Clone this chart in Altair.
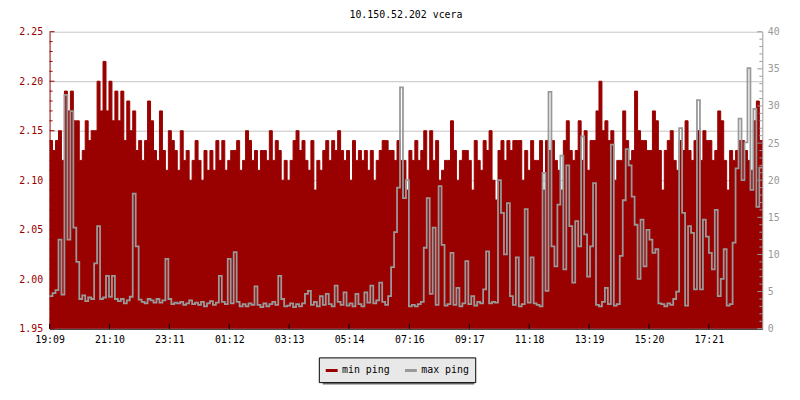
import altair as alt
import pandas as pd

FONT = "DejaVu Sans Mono"
RED = "#990000"
GRAY = "#999999"

STEP_MIN = 6  # minutes between samples, starting at 19:09

min_ping = [
    2.14, 2.13, 2.14, 2.15, 2.12, 2.19, 2.17, 2.19, 2.16, 2.16,
    2.12, 2.13, 2.16, 2.14, 2.15, 2.15, 2.20, 2.17, 2.22, 2.17,
    2.20, 2.16, 2.19, 2.16, 2.19, 2.14, 2.18, 2.15, 2.17, 2.13,
    2.14, 2.12, 2.14, 2.18, 2.16, 2.13, 2.12, 2.17, 2.13, 2.11,
    2.15, 2.14, 2.13, 2.11, 2.15, 2.12, 2.13, 2.10, 2.12, 2.14,
    2.12, 2.10, 2.13, 2.11, 2.13, 2.11, 2.14, 2.12, 2.14, 2.11,
    2.12, 2.13, 2.13, 2.14, 2.11, 2.12, 2.15, 2.14, 2.12, 2.13,
    2.11, 2.13, 2.13, 2.12, 2.15, 2.12, 2.14, 2.13, 2.10, 2.12,
    2.10, 2.12, 2.14, 2.15, 2.13, 2.14, 2.12, 2.11, 2.14, 2.09,
    2.12, 2.11, 2.13, 2.14, 2.12, 2.14, 2.13, 2.15, 2.13, 2.12,
    2.13, 2.10, 2.14, 2.12, 2.13, 2.12, 2.13, 2.11, 2.13, 2.10,
    2.12, 2.13, 2.14, 2.14, 2.13, 2.13, 2.12, 2.14, 2.12, 2.12,
    2.09, 2.13, 2.12, 2.14, 2.12, 2.13, 2.15, 2.11, 2.15, 2.12,
    2.14, 2.10, 2.11, 2.12, 2.12, 2.16, 2.13, 2.10, 2.12, 2.13,
    2.13, 2.12, 2.09, 2.14, 2.12, 2.11, 2.14, 2.13, 2.15, 2.10,
    2.08, 2.13, 2.14, 2.12, 2.14, 2.13, 2.14, 2.14, 2.14, 2.10,
    2.13, 2.11, 2.14, 2.12, 2.12, 2.14, 2.09, 2.14, 2.13, 2.14,
    2.12, 2.11, 2.09, 2.14, 2.16, 2.13, 2.12, 2.13, 2.16, 2.12,
    2.15, 2.11, 2.14, 2.14, 2.17, 2.20, 2.15, 2.16, 2.14, 2.15,
    2.10, 2.12, 2.12, 2.17, 2.14, 2.12, 2.13, 2.19, 2.15, 2.14,
    2.14, 2.13, 2.13, 2.17, 2.16, 2.13, 2.09, 2.13, 2.14, 2.15,
    2.12, 2.11, 2.14, 2.13, 2.16, 2.13, 2.12, 2.14, 2.15, 2.12,
    2.15, 2.14, 2.14, 2.12, 2.13, 2.17, 2.16, 2.12, 2.09, 2.13,
    2.12, 2.13, 2.14, 2.14, 2.13, 2.12, 2.11, 2.16, 2.18, 2.14,
]

max_ping = [
    4.4, 4.8, 5.2, 12.0, 4.6, 31.5, 12.0, 29.3, 13.6, 9.0,
    4.0, 4.5, 3.7, 4.2, 4.0, 8.8, 13.8, 4.0, 4.2, 7.1,
    4.3, 7.1, 4.0, 3.7, 4.0, 3.4, 3.8, 4.3, 18.2, 11.1,
    3.9, 3.6, 3.4, 4.0, 3.8, 3.5, 4.0, 3.5, 3.8, 9.4,
    4.0, 3.3, 3.5, 3.4, 3.6, 3.2, 3.4, 3.8, 3.3, 3.5,
    3.2, 3.6, 3.0, 3.4, 3.7, 3.2, 3.5, 7.1, 3.6, 3.3,
    9.4, 3.4, 10.3, 3.6, 3.0, 3.3, 3.0, 3.4, 3.2, 5.7,
    3.2, 2.9, 3.4, 3.0, 3.3, 3.6, 3.2, 7.1, 4.0, 3.0,
    3.1, 3.4, 2.9, 3.3, 3.0, 3.4, 4.7, 5.1, 3.2, 3.6,
    3.0, 4.4, 3.2, 4.7, 3.3, 3.0, 5.8, 3.6, 3.2, 4.9,
    3.1, 3.4, 3.0, 4.7, 3.3, 3.0, 4.9, 3.5, 5.8, 3.4,
    3.8, 6.2, 3.6, 3.2, 4.4, 8.3, 13.0, 19.0, 32.5, 17.6,
    20.0, 3.0, 3.2, 3.0, 3.3, 3.6, 10.9, 17.6, 4.7, 13.6,
    3.2, 19.2, 11.3, 3.1, 3.3, 10.2, 3.2, 5.5, 3.0, 3.4,
    9.1, 3.3, 4.4, 3.1, 3.6, 3.4, 5.3, 10.4, 3.4, 3.6,
    3.5, 20.0, 15.6, 10.0, 16.9, 4.4, 3.2, 9.6, 3.0, 3.3,
    16.1, 3.5, 9.6, 3.4, 3.2, 3.0, 21.0, 5.1, 31.9, 11.1,
    8.4, 16.7, 23.3, 8.0, 22.0, 13.8, 6.2, 14.5, 11.1, 25.9,
    12.7, 7.0, 11.1, 19.6, 3.2, 3.0, 3.6, 5.5, 3.3, 24.8,
    3.1, 3.3, 9.8, 17.3, 24.2, 22.0, 17.8, 14.0, 6.7, 14.7,
    8.4, 13.3, 12.0, 10.2, 10.7, 3.4, 3.3, 3.0, 3.4, 3.2,
    4.0, 5.0, 27.0, 15.6, 3.1, 13.8, 12.9, 5.3, 30.8, 5.3,
    14.7, 12.4, 10.2, 8.0, 16.0, 4.4, 6.7, 10.7, 3.1, 3.3,
    11.6, 21.6, 28.3, 20.0, 25.1, 35.1, 18.7, 29.6, 16.4, 21.7,
]

series_names = ["min ping", "max ping"]
x_tick_minutes = [0, 121, 242, 363, 484, 605, 727, 848, 969, 1090, 1211, 1332]
left_major = [1.95, 2.00, 2.05, 2.10, 2.15, 2.20, 2.25]
left_minor = [round(1.95 + 0.01 * k, 2) for k in range(31) if k % 5 != 0]
right_major = [0, 5, 10, 15, 20, 25, 30, 35, 40]
right_minor = [k for k in range(41) if k % 5 != 0]

n = len(min_ping)
t = [i * STEP_MIN for i in range(n)] + [n * STEP_MIN]
df = pd.DataFrame({
    "t": t,
    "minp": min_ping + [min_ping[-1]],
    "maxp": max_ping + [max_ping[-1]],
    "s_min": [series_names[0]] * (n + 1),
    "s_max": [series_names[1]] * (n + 1),
})

x_scale = alt.Scale(domain=[0, 1440], nice=False, zero=False)
x_axis = alt.Axis(
    title=None, values=x_tick_minutes, ticks=False, grid=False, labelFlush=False,
    labelExpr="timeFormat(datetime(2000, 0, 1, 19, 9 + datum.value), '%H:%M')",
    domainColor="#000000", labelColor="#000000", labelPadding=6,
    labelFont=FONT, labelFontSize=10,
)
yl_scale = alt.Scale(domain=[1.95, 2.25], nice=False, zero=False)
yl_axis = alt.Axis(
    title=None, orient="left", values=left_major, format=".2f", ticks=False,
    grid=True, gridColor="#c4c4c4", gridWidth=1, labelFlush=False,
    domainColor=RED, labelColor=RED, labelPadding=7,
    labelFont=FONT, labelFontSize=10,
)
yr_scale = alt.Scale(domain=[0, 40], nice=False, zero=False)
yr_axis = alt.Axis(
    title=None, orient="right", values=right_major, ticks=False, grid=False,
    labelFlush=False,
    domainColor=GRAY, labelColor=GRAY, labelPadding=5,
    labelFont=FONT, labelFontSize=10,
)
color_scale = alt.Scale(domain=series_names, range=[RED, GRAY])
legend = alt.Legend(
    title=None, orient="none", legendX=272, legendY=329, direction="horizontal",
    fillColor="#e8e8e8", strokeColor="#000000", padding=5.5,
    symbolType="stroke", symbolStrokeWidth=3, symbolSize=144,
    labelFont=FONT, labelFontSize=10, labelColor="#000000",
    labelOffset=3, columnPadding=8,
)

base = alt.Chart(df)
X = alt.X("t:Q", scale=x_scale, axis=x_axis)

area_min = base.mark_area(interpolate="step-after", color=RED).encode(
    x=X, y=alt.Y("minp:Q", scale=yl_scale, axis=yl_axis), y2=alt.datum(1.95)
)
line_min = base.mark_line(interpolate="step-after", strokeWidth=1).encode(
    x=X, y=alt.Y("minp:Q", scale=yl_scale, axis=yl_axis),
    color=alt.Color("s_min:N", scale=color_scale, legend=legend),
)

lmaj = alt.Chart(pd.DataFrame({"v": left_major})).mark_rule(color=RED).encode(
    y=alt.Y("v:Q", scale=yl_scale, axis=yl_axis), x=alt.value(0), x2=alt.value(5)
)
lmin = alt.Chart(pd.DataFrame({"v": left_minor})).mark_rule(color=RED).encode(
    y=alt.Y("v:Q", scale=yl_scale, axis=yl_axis), x=alt.value(0), x2=alt.value(3)
)
xt = alt.Chart(pd.DataFrame({"v": x_tick_minutes})).mark_rule(color="#000000").encode(
    x=alt.X("v:Q", scale=x_scale, axis=x_axis), y=alt.value(300), y2=alt.value(295)
)
shadow = alt.Chart(pd.DataFrame({"a": [0]})).mark_rect(color="#707070").encode(
    x=alt.value(276), x2=alt.value(429), y=alt.value(332), y2=alt.value(356.5)
)

line_max = base.mark_line(interpolate="step-after", strokeWidth=1.8).encode(
    x=X, y=alt.Y("maxp:Q", scale=yr_scale, axis=yr_axis),
    color=alt.Color("s_max:N", scale=color_scale, legend=legend),
)
rmaj = alt.Chart(pd.DataFrame({"v": right_major})).mark_rule(color=GRAY).encode(
    y=alt.Y("v:Q", scale=yr_scale, axis=yr_axis), x=alt.value(720), x2=alt.value(715)
)
rmin = alt.Chart(pd.DataFrame({"v": right_minor})).mark_rule(color=GRAY).encode(
    y=alt.Y("v:Q", scale=yr_scale, axis=yr_axis), x=alt.value(720), x2=alt.value(717)
)

left = alt.layer(area_min, line_min, shadow, lmaj, lmin, xt)
right = alt.layer(line_max, rmaj, rmin)

chart = alt.layer(left, right).resolve_scale(y="independent").properties(
    width=720, height=300,
    autosize=alt.AutoSizeParams(type="none"),
    padding={"left": 42, "top": 22, "right": 30, "bottom": 62},
    title=alt.TitleParams(
        "10.150.52.202 vcera", font=FONT, fontSize=10, fontWeight="normal",
        color="#000000", anchor="middle", frame="group", offset=7,
    ),
).configure_view(stroke=None)

chart.save("out.html", embed_options={"renderer": "svg", "actions": False})
